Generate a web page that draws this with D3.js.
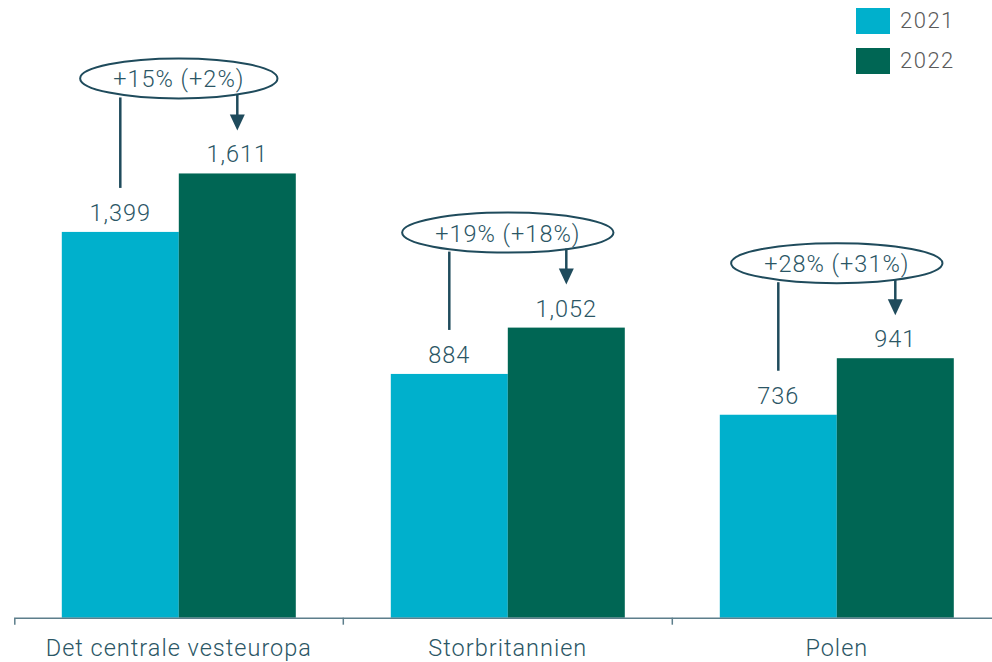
<!DOCTYPE html>
<html>
  <head>
    <script src="https://cdnjs.cloudflare.com/ajax/libs/d3/7.8.5/d3.min.js"></script>
    <style>
      body { margin: 0; background: #fff; }
      svg text { font-family: Roboto, "Open Sans", sans-serif; font-weight: 300; letter-spacing: 1px; }
      .value { fill: #2b5665; font-size: 23.5px; }
      .change { fill: #2b5665; font-size: 23.5px; }
      .axis text { fill: #2b5665; font-size: 23.5px; }
      .axis path, .axis line { stroke: #5d7e8b; stroke-width: 1.5; }
      .legend text { fill: #5a5a5a; font-size: 22px; letter-spacing: 1.5px; }
    </style>
  </head>
  <body>
    <svg width="992" height="662"></svg>
    <script>
      // chart data
      var categories = ["Det centrale vesteuropa", "Storbritannien", "Polen"];
      var years = ["2021", "2022"];
      var values2021 = [1399, 884, 736];
      var values2022 = [1611, 1052, 941];
      var changeLabels = ["+15% (+2%)", "+19% (+18%)", "+28% (+31%)"];

      var colors = { "2021": "#00b0cc", "2022": "#006654" };
      var lineColor = "#1f4b5c";

      var svg = d3.select("svg");

      var x0 = d3.scaleBand().domain(categories).range([14.3, 1001.3]);
      var x1 = d3.scaleBand().domain(years).range([0, x0.bandwidth()])
        .paddingInner(0).paddingOuter(0.406);
      var y = d3.scaleLinear().domain([0, 2240]).range([617.7, 0]);

      var rows = categories.map((c, i) => ({
        cat: c, i: i,
        vals: { "2021": values2021[i], "2022": values2022[i] }
      }));

      // bars
      var groups = svg.selectAll("g.group").data(rows).enter()
        .append("g").attr("class", "group")
        .attr("transform", d => "translate(" + x0(d.cat) + ",0)");

      groups.selectAll("rect").data(d => years.map(yr => ({ yr: yr, v: d.vals[yr] })))
        .enter().append("rect")
        .attr("x", d => x1(d.yr))
        .attr("y", d => y(d.v))
        .attr("width", x1.bandwidth())
        .attr("height", d => y(0) - y(d.v))
        .attr("fill", d => colors[d.yr]);

      groups.selectAll("text.value").data(d => years.map(yr => ({ yr: yr, v: d.vals[yr] })))
        .enter().append("text").attr("class", "value")
        .attr("x", d => x1(d.yr) + x1.bandwidth() / 2)
        .attr("y", d => y(d.v) - 11)
        .attr("text-anchor", "middle")
        .text(d => d3.format(",")(d.v));

      // axis
      var axis = svg.append("g").attr("class", "axis")
        .attr("transform", "translate(0," + y(0) + ")")
        .call(d3.axisBottom(x0).tickSizeInner(0).tickSizeOuter(7));
      axis.selectAll(".tick text").attr("y", 38).attr("dy", null);
      axis.selectAll("line.sep").data(categories.slice(1)).enter()
        .append("line").attr("class", "sep")
        .attr("x1", d => x0(d)).attr("x2", d => x0(d))
        .attr("y1", 0).attr("y2", 7);

      // change annotations
      groups.each(function (d, i) {
        var g = d3.select(this);
        var cx = x0.bandwidth() / 2;
        var cy = y(d.vals["2022"]) - 95;
        var ry = 20;
        var t = g.append("text").attr("class", "change")
          .attr("x", cx).attr("y", cy + 9)
          .attr("text-anchor", "middle")
          .text(changeLabels[i]);
        var rx = t.node().getComputedTextLength() / 2 + 33;
        g.insert("ellipse", "text.change")
          .attr("cx", cx).attr("cy", cy).attr("rx", rx).attr("ry", ry)
          .attr("fill", "none").attr("stroke", lineColor).attr("stroke-width", 2);

        var xa = x1("2021") + x1.bandwidth() / 2;
        g.append("line")
          .attr("x1", xa).attr("x2", xa)
          .attr("y1", cy + ry - 1).attr("y2", y(d.vals["2021"]) - 44)
          .attr("stroke", lineColor).attr("stroke-width", 2.5);

        var xb = x1("2022") + x1.bandwidth() / 2;
        var tip = y(d.vals["2022"]) - 43;
        g.append("line")
          .attr("x1", xb).attr("x2", xb)
          .attr("y1", cy + ry - 4).attr("y2", tip - 14)
          .attr("stroke", lineColor).attr("stroke-width", 2.5);
        g.append("path")
          .attr("d", "M" + (xb - 7.5) + "," + (tip - 16) + "L" + (xb + 7.5) + "," + (tip - 16) + "L" + xb + "," + tip + "Z")
          .attr("fill", lineColor);
      });

      // legend
      var legend = svg.append("g").attr("class", "legend");
      var li = legend.selectAll("g").data(years).enter().append("g")
        .attr("transform", (d, i) => "translate(856," + (8 + i * 40) + ")");
      li.append("rect").attr("width", 34).attr("height", 26).attr("fill", d => colors[d]);
      li.append("text").attr("x", 44).attr("y", 20).text(d => d);
    </script>
  </body>
</html>
